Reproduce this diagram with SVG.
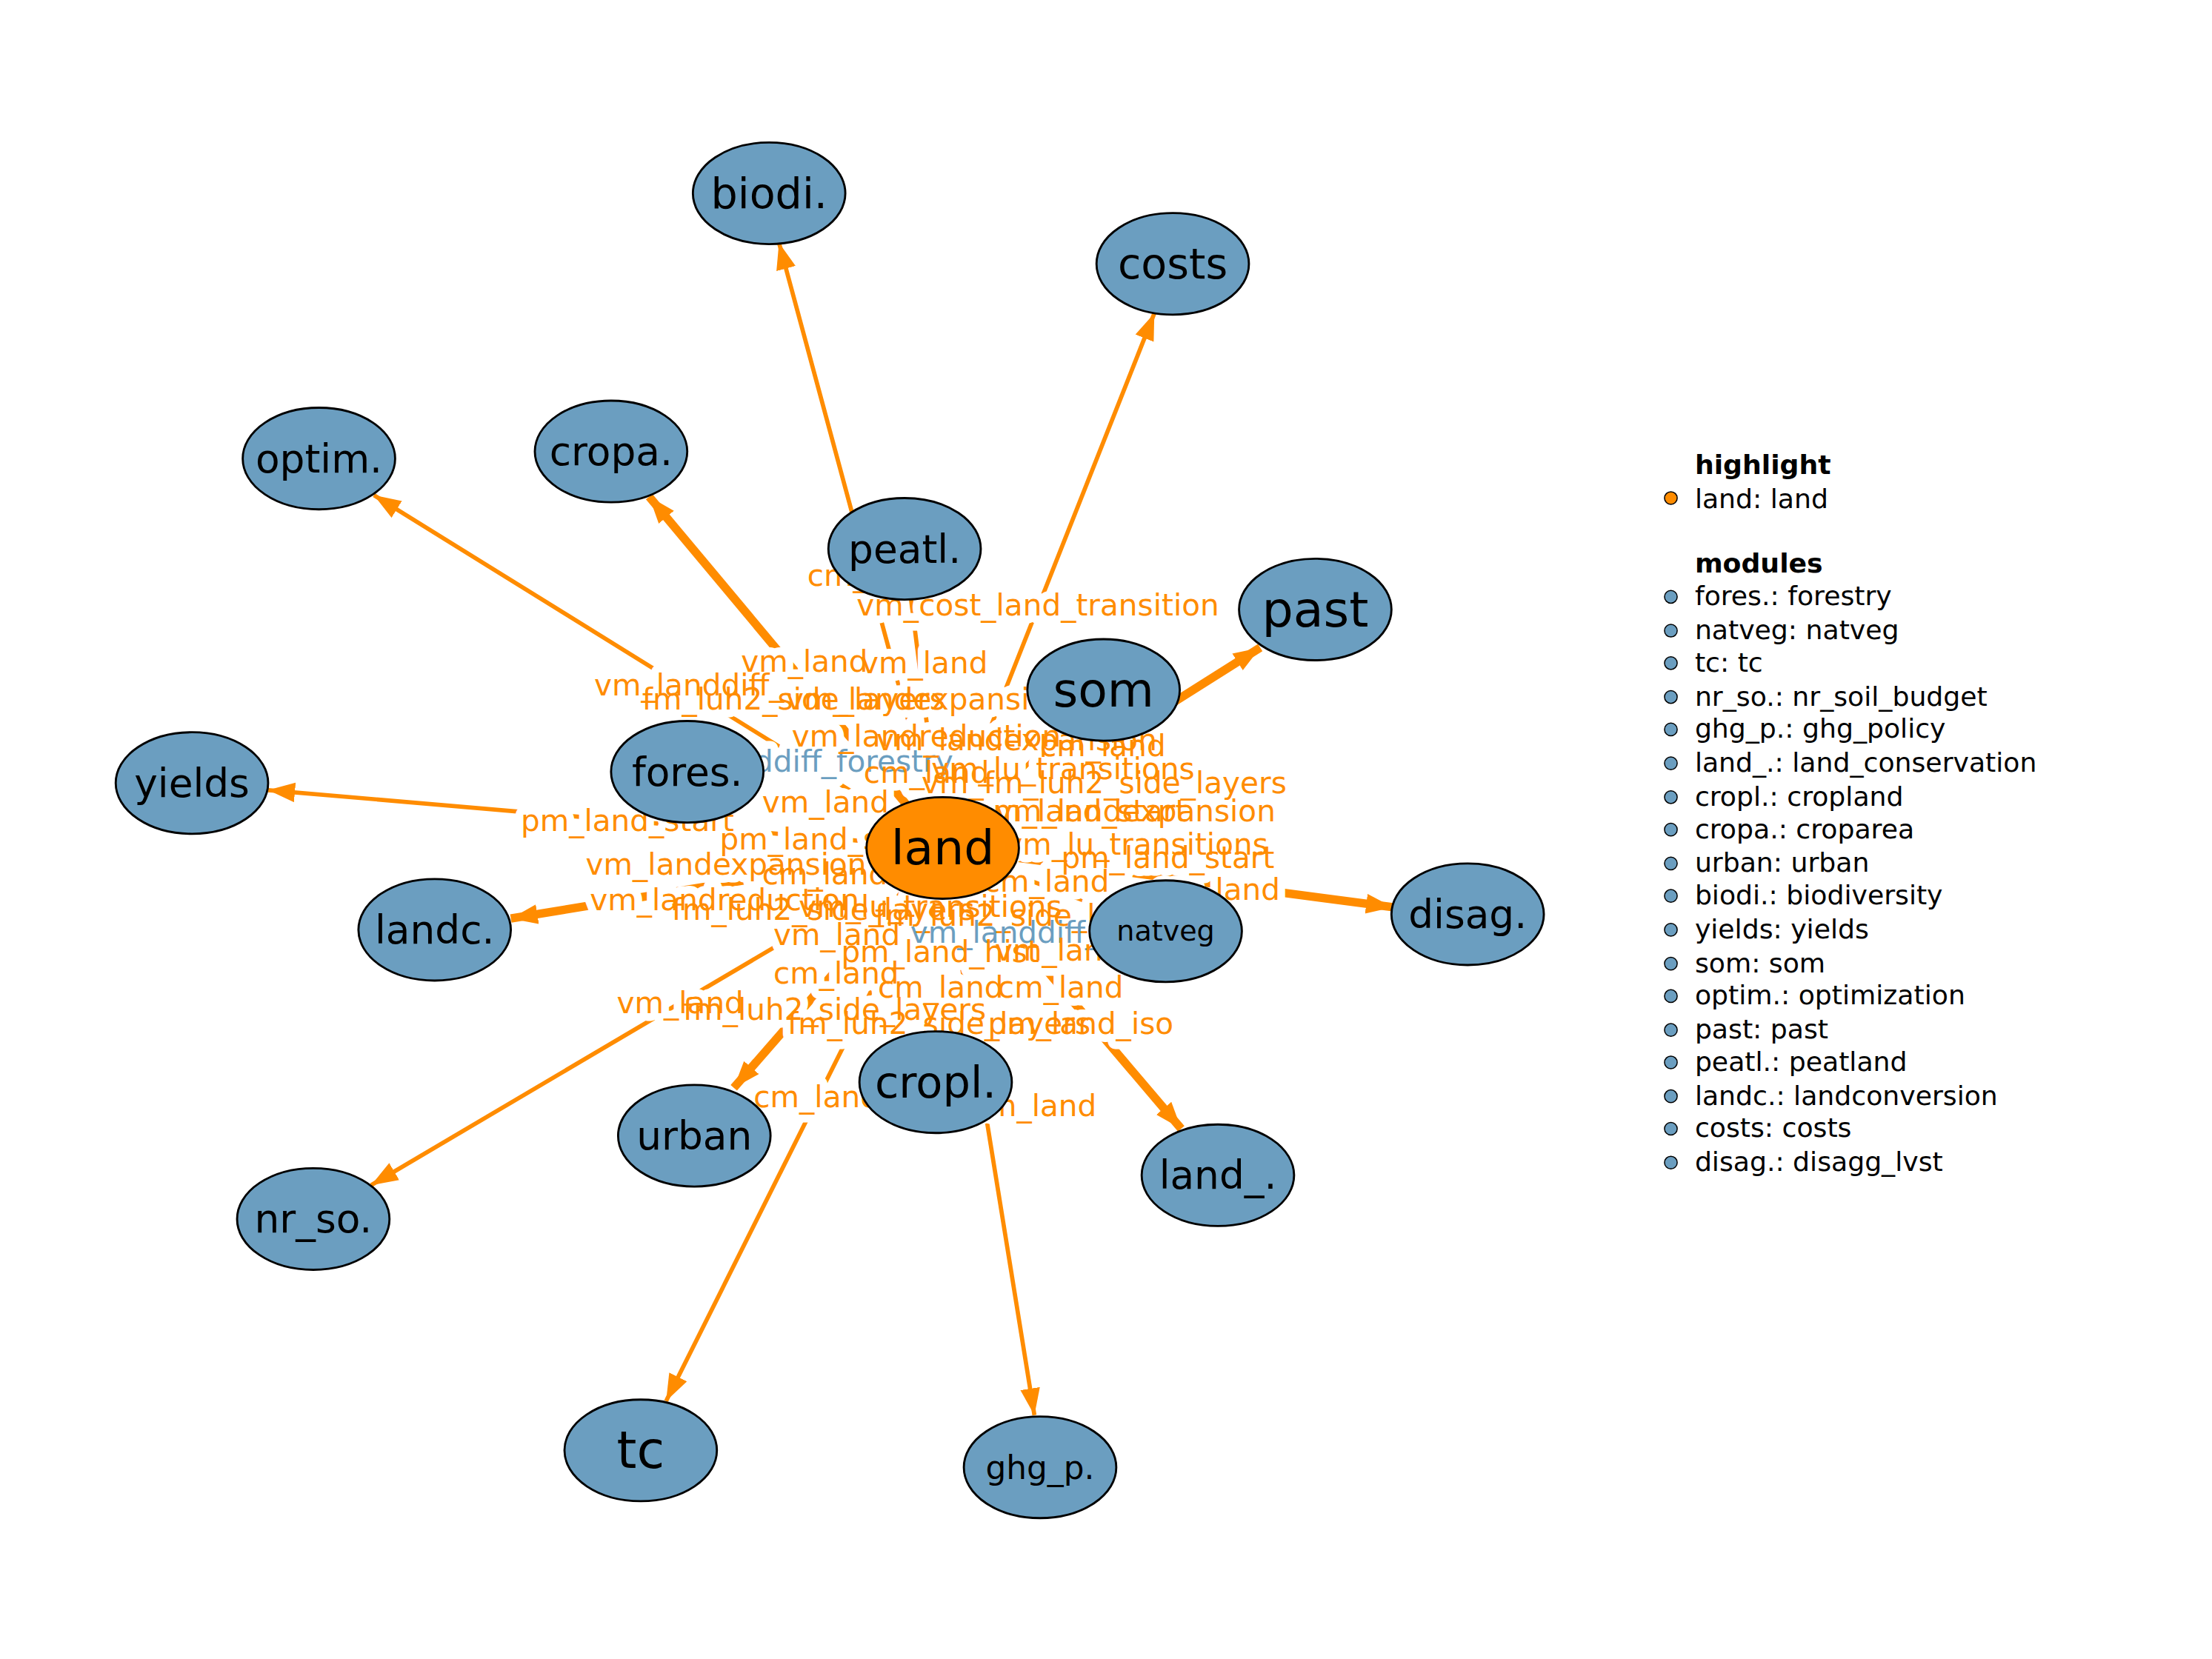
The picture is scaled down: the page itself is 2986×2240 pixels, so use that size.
<svg xmlns="http://www.w3.org/2000/svg" width="2986" height="2240" viewBox="0 0 2986 2240">
<style>
.n{fill:#6b9ec0;stroke:#000;stroke-width:1.5}
.nt{font-family:"DejaVu Sans",sans-serif;font-size:28px;text-anchor:middle;dominant-baseline:central;fill:#000}
.e{stroke:#ff8c00;stroke-width:3;fill:none}
.t{stroke:#ff8c00;stroke-width:6;fill:none}
.l text{font-family:"DejaVu Sans",sans-serif;font-size:21.3px}
.halo text{stroke:#fff;stroke-width:11;stroke-linejoin:round;fill:#fff}
.o{fill:#ff8c00}
.b{fill:#6b9ec0}
.lg{font-family:"DejaVu Sans",sans-serif;font-size:19px;fill:#000}
.lgb{font-weight:bold}
</style>
<defs>
<marker id="a" markerUnits="userSpaceOnUse" markerWidth="22" markerHeight="16" refX="19" refY="7" orient="auto"><path d="M0,0 L19,7 L0,14 z" fill="#ff8c00"/></marker>
</defs>
<rect width="2986" height="2240" fill="#fff"/>
<g transform="scale(1.905)">
<g id="connectors">
<line class="e" x1="668" y1="601" x2="552" y2="172" marker-end="url(#a)"/>
<line class="e" x1="668" y1="601" x2="818" y2="222" marker-end="url(#a)"/>
<line class="e" x1="668" y1="601" x2="265" y2="351" marker-end="url(#a)"/>
<line class="t" x1="668" y1="601" x2="460" y2="352" marker-end="url(#a)"/>
<line class="t" x1="668" y1="601" x2="893" y2="459" marker-end="url(#a)"/>
<line class="e" x1="668" y1="601" x2="190" y2="560" marker-end="url(#a)"/>
<line class="t" x1="668" y1="601" x2="362" y2="651" marker-end="url(#a)"/>
<line class="t" x1="668" y1="601" x2="987" y2="643" marker-end="url(#a)"/>
<line class="t" x1="668" y1="601" x2="520" y2="771" marker-end="url(#a)"/>
<line class="t" x1="668" y1="601" x2="837" y2="800" marker-end="url(#a)"/>
<line class="e" x1="668" y1="601" x2="263" y2="840" marker-end="url(#a)"/>
<line class="e" x1="668" y1="601" x2="472" y2="993" marker-end="url(#a)"/>
<line class="e" x1="668" y1="601" x2="733" y2="1003" marker-end="url(#a)"/>
<line class="e" x1="668" y1="601" x2="641" y2="389"/>
<line class="e" x1="668" y1="601" x2="782" y2="489"/>
<line class="e" x1="668" y1="601" x2="826" y2="660"/>
<line class="e" x1="668" y1="601" x2="663" y2="767"/>
</g>
<g id="labels-halo" class="l halo">
<text x="572" y="415">cm_land</text>
<text x="607" y="436">vm_cost_land_transition</text>
<text x="525" y="476">vm_land</text>
<text x="610" y="477">vm_land</text>
<text x="421" y="493">vm_landdiff_</text>
<text x="455" y="503">fm_luh2_side_layers</text>
<text x="557" y="503">vm_landexpansion</text>
<text x="458" y="547">vm_landdiff_forestry</text>
<text x="561" y="529">vm_landreduction</text>
<text x="621" y="532">vm_landexpansion</text>
<text x="737" y="536">cm_land</text>
<text x="612" y="555">cm_land</text>
<text x="660" y="552">vm_lu_transitions</text>
<text x="653" y="562">vm_fm_luh2_side_layers</text>
<text x="540" y="576">vm_land</text>
<text x="705" y="582">vm_landexpansion</text>
<text x="690" y="582">pm_land_start</text>
<text x="369" y="589">pm_land_start</text>
<text x="510" y="602">pm_land_start</text>
<text x="712" y="606">vm_lu_transitions</text>
<text x="752" y="615">pm_land_start</text>
<text x="415" y="620">vm_landexpansion</text>
<text x="540" y="627">cm_land</text>
<text x="697" y="632">cm_land</text>
<text x="818" y="638">cm_land</text>
<text x="418" y="645">vm_landreduction</text>
<text x="476" y="652">fm_luh2_side_layers</text>
<text x="566" y="650">vm_lu_transitions</text>
<text x="620" y="656">fm_luh2_side_layers</text>
<text x="548" y="670">vm_land</text>
<text x="645" y="668">vm_landdiff_natveg</text>
<text x="596" y="682">pm_land_hist</text>
<text x="705" y="681">vm_land</text>
<text x="548" y="697">cm_land</text>
<text x="622" y="707">cm_land</text>
<text x="707" y="707">cm_land</text>
<text x="437" y="718">vm_land</text>
<text x="484" y="723">fm_luh2_side_layers</text>
<text x="558" y="733">fm_luh2_side_layers</text>
<text x="700" y="733">pm_land_iso</text>
<text x="534" y="785">cm_land</text>
<text x="688" y="791">cm_land</text>
</g>
<g id="labels" class="l o">
<text x="572" y="415">cm_land</text>
<text x="607" y="436">vm_cost_land_transition</text>
<text x="525" y="476">vm_land</text>
<text x="610" y="477">vm_land</text>
<text x="421" y="493">vm_landdiff_</text>
<text x="455" y="503">fm_luh2_side_layers</text>
<text x="557" y="503">vm_landexpansion</text>
<text x="458" y="547" class="b">vm_landdiff_forestry</text>
<text x="561" y="529">vm_landreduction</text>
<text x="621" y="532">vm_landexpansion</text>
<text x="737" y="536">cm_land</text>
<text x="612" y="555">cm_land</text>
<text x="660" y="552">vm_lu_transitions</text>
<text x="653" y="562">vm_fm_luh2_side_layers</text>
<text x="540" y="576">vm_land</text>
<text x="705" y="582">vm_landexpansion</text>
<text x="690" y="582">pm_land_start</text>
<text x="369" y="589">pm_land_start</text>
<text x="510" y="602">pm_land_start</text>
<text x="712" y="606">vm_lu_transitions</text>
<text x="752" y="615">pm_land_start</text>
<text x="415" y="620">vm_landexpansion</text>
<text x="540" y="627">cm_land</text>
<text x="697" y="632">cm_land</text>
<text x="818" y="638">cm_land</text>
<text x="418" y="645">vm_landreduction</text>
<text x="476" y="652">fm_luh2_side_layers</text>
<text x="566" y="650">vm_lu_transitions</text>
<text x="620" y="656">fm_luh2_side_layers</text>
<text x="548" y="670">vm_land</text>
<text x="645" y="668" class="b">vm_landdiff_natveg</text>
<text x="596" y="682">pm_land_hist</text>
<text x="705" y="681">vm_land</text>
<text x="548" y="697">cm_land</text>
<text x="622" y="707">cm_land</text>
<text x="707" y="707">cm_land</text>
<text x="437" y="718">vm_land</text>
<text x="484" y="723">fm_luh2_side_layers</text>
<text x="558" y="733">fm_luh2_side_layers</text>
<text x="700" y="733">pm_land_iso</text>
<text x="534" y="785">cm_land</text>
<text x="688" y="791">cm_land</text>
</g>
<g id="biodi"><ellipse class="n" cx="545" cy="137" rx="54" ry="36"/><text class="nt" x="545" y="137" style="font-size:30px">biodi.</text></g>
<g id="costs"><ellipse class="n" cx="831" cy="187" rx="54" ry="36"/><text class="nt" x="831" y="187" style="font-size:30px">costs</text></g>
<g id="optim"><ellipse class="n" cx="226" cy="325" rx="54" ry="36"/><text class="nt" x="226" y="325">optim.</text></g>
<g id="cropa"><ellipse class="n" cx="433" cy="320" rx="54" ry="36"/><text class="nt" x="433" y="320">cropa.</text></g>
<g id="peatl"><ellipse class="n" cx="641" cy="389" rx="54" ry="36"/><text class="nt" x="641" y="389">peatl.</text></g>
<g id="past"><ellipse class="n" cx="932" cy="432" rx="54" ry="36"/><text class="nt" x="932" y="432" style="font-size:35px">past</text></g>
<g id="som"><ellipse class="n" cx="782" cy="489" rx="54" ry="36"/><text class="nt" x="782" y="489" style="font-size:34px">som</text></g>
<g id="yields"><ellipse class="n" cx="136" cy="555" rx="54" ry="36"/><text class="nt" x="136" y="555">yields</text></g>
<g id="fores"><ellipse class="n" cx="487" cy="547" rx="54" ry="36"/><text class="nt" x="487" y="547">fores.</text></g>
<g id="land"><ellipse cx="668" cy="601" rx="54" ry="36" fill="#ff8c00" stroke="#000" stroke-width="1.5"/><text class="nt" x="668" y="601" style="font-size:34px">land</text></g>
<g id="landc"><ellipse class="n" cx="308" cy="659" rx="54" ry="36"/><text class="nt" x="308" y="659">landc.</text></g>
<g id="natveg"><ellipse class="n" cx="826" cy="660" rx="54" ry="36"/><text class="nt" x="826" y="660" style="font-size:20px">natveg</text></g>
<g id="disag"><ellipse class="n" cx="1040" cy="648" rx="54" ry="36"/><text class="nt" x="1040" y="648">disag.</text></g>
<g id="cropl"><ellipse class="n" cx="663" cy="767" rx="54" ry="36"/><text class="nt" x="663" y="767" style="font-size:31px">cropl.</text></g>
<g id="urban"><ellipse class="n" cx="492" cy="805" rx="54" ry="36"/><text class="nt" x="492" y="805">urban</text></g>
<g id="land_"><ellipse class="n" cx="863" cy="833" rx="54" ry="36"/><text class="nt" x="863" y="833">land_.</text></g>
<g id="nr_so"><ellipse class="n" cx="222" cy="864" rx="54" ry="36"/><text class="nt" x="222" y="864">nr_so.</text></g>
<g id="tc"><ellipse class="n" cx="454" cy="1028" rx="54" ry="36"/><text class="nt" x="454" y="1028" style="font-size:36px">tc</text></g>
<g id="ghg_p"><ellipse class="n" cx="737" cy="1040" rx="54" ry="36"/><text class="nt" x="737" y="1040" style="font-size:23px">ghg_p.</text></g>
<g id="legend">
<text class="lg lgb" x="1201" y="336">highlight</text>
<circle cx="1184" cy="353" r="4.5" fill="#ff8c00" stroke="#000" stroke-width="0.8"/>
<text class="lg" x="1201" y="360">land: land</text>
<text class="lg lgb" x="1201" y="406">modules</text>
<g fill="#6b9ec0" stroke="#000" stroke-width="0.8">
<circle cx="1184" cy="423" r="4.5"/><circle cx="1184" cy="447" r="4.5"/><circle cx="1184" cy="470" r="4.5"/><circle cx="1184" cy="494" r="4.5"/><circle cx="1184" cy="517" r="4.5"/><circle cx="1184" cy="541" r="4.5"/><circle cx="1184" cy="565" r="4.5"/><circle cx="1184" cy="588" r="4.5"/><circle cx="1184" cy="612" r="4.5"/><circle cx="1184" cy="635" r="4.5"/><circle cx="1184" cy="659" r="4.5"/><circle cx="1184" cy="683" r="4.5"/><circle cx="1184" cy="706" r="4.5"/><circle cx="1184" cy="730" r="4.5"/><circle cx="1184" cy="753" r="4.5"/><circle cx="1184" cy="777" r="4.5"/><circle cx="1184" cy="800" r="4.5"/><circle cx="1184" cy="824" r="4.5"/>
</g>
<text class="lg" x="1201" y="429">fores.: forestry</text>
<text class="lg" x="1201" y="453">natveg: natveg</text>
<text class="lg" x="1201" y="476">tc: tc</text>
<text class="lg" x="1201" y="500">nr_so.: nr_soil_budget</text>
<text class="lg" x="1201" y="523">ghg_p.: ghg_policy</text>
<text class="lg" x="1201" y="547">land_.: land_conservation</text>
<text class="lg" x="1201" y="571">cropl.: cropland</text>
<text class="lg" x="1201" y="594">cropa.: croparea</text>
<text class="lg" x="1201" y="618">urban: urban</text>
<text class="lg" x="1201" y="641">biodi.: biodiversity</text>
<text class="lg" x="1201" y="665">yields: yields</text>
<text class="lg" x="1201" y="689">som: som</text>
<text class="lg" x="1201" y="712">optim.: optimization</text>
<text class="lg" x="1201" y="736">past: past</text>
<text class="lg" x="1201" y="759">peatl.: peatland</text>
<text class="lg" x="1201" y="783">landc.: landconversion</text>
<text class="lg" x="1201" y="806">costs: costs</text>
<text class="lg" x="1201" y="830">disag.: disagg_lvst</text>
</g>
</g>
</svg>
